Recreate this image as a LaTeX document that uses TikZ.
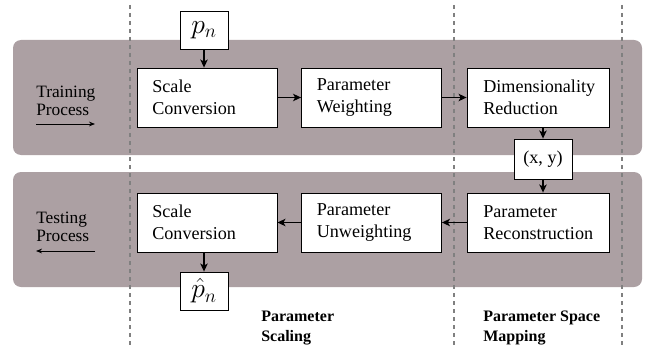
\documentclass[tikz,border=0pt]{standalone}
\usepackage{fontspec}
\setmainfont{Liberation Serif}
\usetikzlibrary{arrows.meta}
\definecolor{bandgray}{RGB}{172,160,163}
\tikzset{
  box/.style={draw, fill=white, line width=0.6pt, minimum width=105pt, minimum height=44.25pt,
    text width=82pt, inner xsep=11pt, align=left, font=\fontsize{13.6}{16.5}\selectfont},
  small/.style={draw, fill=white, line width=0.6pt, inner sep=0pt},
  band/.style={fill=bandgray, rounded corners=6pt},
  divider/.style={gray, line width=0.8pt, dash pattern=on 3pt off 3pt},
  flow/.style={-{Stealth[length=6pt,width=5.5pt,inset=1.5pt]}, line width=1.2pt},
  proc/.style={-{Stealth[length=4.5pt,width=3.5pt]}, line width=0.6pt},
  side/.style={align=left, inner sep=0pt, font=\fontsize{13}{13.5}\selectfont},
  lbl/.style={align=left, inner sep=0pt, font=\fontsize{12}{15}\selectfont\bfseries}
}
\begin{document}
\begin{tikzpicture}[x=0.75pt,y=-0.75pt]
\useasboundingbox (0,0) rectangle (652,349);
\fill[band] (13,40) rectangle (642,155);
\fill[band] (13,172) rectangle (642,287);
\foreach \x in {130,454,622} \draw[divider] (\x,5) -- (\x,349);

\node[small, minimum width=36pt, minimum height=28.5pt, font=\fontsize{20}{22}\selectfont] (pn) at (204,30) {$p_n$};
\node[box] (sc1) at (207,97.5) {Scale\\Conversion};
\node[box] (pw) at (371.5,97.5) {Parameter\\Weighting};
\node[box, minimum width=106.5pt] (dr) at (538,97.5) {Dimensionality\\Reduction};
\node[small, minimum width=43.5pt, minimum height=30pt, font=\fontsize{13.6}{16}\selectfont] (xy) at (543,159) {(x, y)};
\node[box, minimum width=106.5pt] (pr) at (538,222.5) {Parameter\\Reconstruction};
\node[box] (pu) at (371.5,222.5) {Parameter\\Unweighting};
\node[box] (sc2) at (207,222.5) {Scale\\Conversion};
\node[small, minimum width=36pt, minimum height=28.5pt, font=\fontsize{20}{22}\selectfont] (pnh) at (204,291) {$\hat{p}_n$};

\node[side, anchor=west] (train) at (36,101) {Training\\Process};
\node[side, anchor=west] (test) at (36,227) {Testing\\Process};
\node[lbl, anchor=west] (scal) at (261,328) {Parameter\\Scaling};
\node[lbl, anchor=west] (map) at (483,328) {Parameter Space\\Mapping};
\coordinate (tr0) at (36,124);
\coordinate (tr1) at (95,124);
\coordinate (te0) at (95,251);
\coordinate (te1) at (36,251);

\draw[proc] (tr0) -- (tr1);
\draw[proc] (te0) -- (te1);
\draw[flow] (pn) -- (sc1.north -| pn);
\draw[flow] (sc1) -- (pw);
\draw[flow] (pw) -- (dr);
\draw[flow] (dr.south -| xy) -- (xy);
\draw[flow] (xy) -- (pr.north -| xy);
\draw[flow] (pr) -- (pu);
\draw[flow] (pu) -- (sc2);
\draw[flow] (sc2.south -| pnh) -- (pnh);
\end{tikzpicture}
\end{document}
